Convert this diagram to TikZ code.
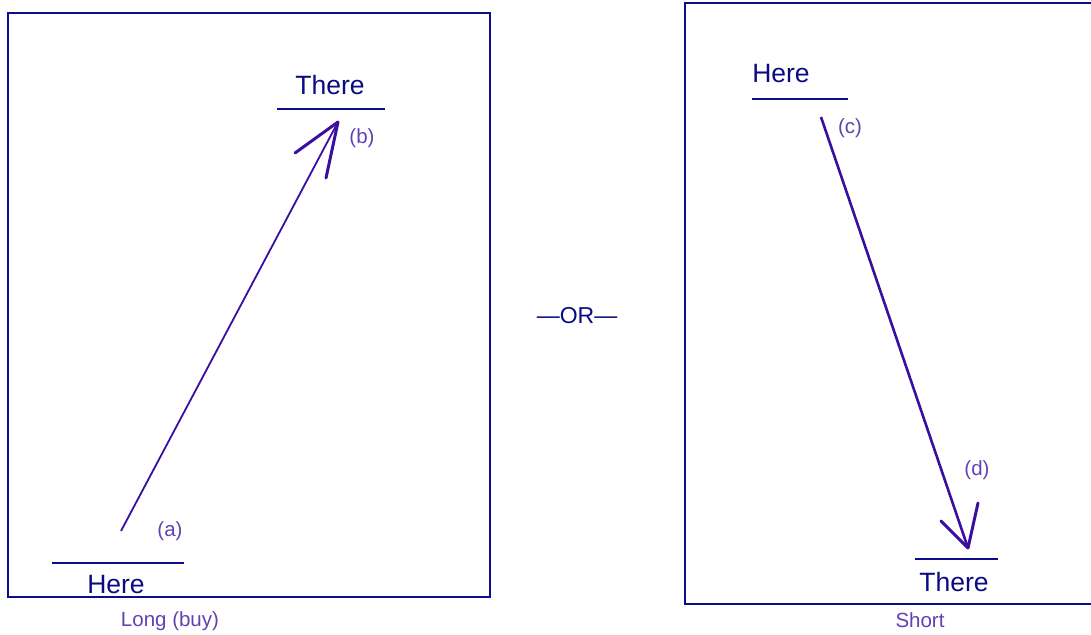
\documentclass[tikz,border=0pt]{standalone}
\usepackage{fontspec}
\setmainfont{Liberation Sans}
\usepackage{xcolor}
\usetikzlibrary{positioning, arrows.meta, calc}
\definecolor{azulcaixa}{RGB}{14,12,140}
\definecolor{azultexto}{RGB}{10,10,130}
\definecolor{roxoseta}{RGB}{58,14,160}
\definecolor{roxoletra}{RGB}{96,66,178}

\begin{document}
\begin{tikzpicture}[x=1pt, y=-1pt,
  caixa/.style={line width=2.4pt, draw=azulcaixa},
  nivel/.style={line width=2.8pt, draw=azulcaixa},
  rotulo/.style={font=\fontsize{26.5}{26.5}\selectfont, text=azultexto, inner sep=0pt},
  letra/.style={font=\fontsize{20.5}{20.5}\selectfont, text=roxoletra, inner sep=0pt},
  seta/.style={line width=1.8pt, draw=roxoseta},
  ponta/.style={line width=3pt, draw=roxoseta, line cap=round}]
  \useasboundingbox (0,0) rectangle (1091,634);

  % Long: caixa da esquerda
  \draw[caixa] (8,13) rectangle (490,597);
  \node[rotulo] (thereA) at (330,85) {There};
  \draw[nivel] (277,109) -- (385,109);
  \node[rotulo] (hereA) at (116,585) {Here};
  \draw[nivel] (52,563) -- (184,563);
  \coordinate (a) at (121,531);
  \coordinate (b) at (338,122);
  \draw[seta] (a) -- (b);
  \draw[ponta] (b) -- (295,153);
  \draw[ponta] (b) -- (326,178);
  \node[letra] (la) at (170,531) {(a)};
  \node[letra] (lb) at (362,138) {(b)};
  \node[letra] (long) at (170,621) {Long (buy)};

  % separador
  \node[font=\fontsize{23}{23}\selectfont, text=azultexto, inner sep=0pt] (ou) at (577,316) {\textemdash OR\textemdash};

  % Short: caixa da direita
  \draw[caixa] (1095,3) -- (685,3) -- (685,604) -- (1095,604);
  \node[rotulo] (hereB) at (781,74) {Here};
  \draw[nivel] (752,99) -- (848,99);
  \node[rotulo] (thereB) at (954,582) {There};
  \draw[nivel] (915,559) -- (998,559);
  \coordinate (c) at (821,117);
  \coordinate (d) at (968,548);
  \draw[seta, line width=2.6pt] (c) -- (d);
  \draw[ponta] (d) -- (941,521);
  \draw[ponta] (d) -- (978,503);
  \node[letra] (lc) at (850,128) {(c)};
  \node[letra] (ld) at (977,470) {(d)};
  \node[letra] (short) at (920,620) {Short};
\end{tikzpicture}
\end{document}
